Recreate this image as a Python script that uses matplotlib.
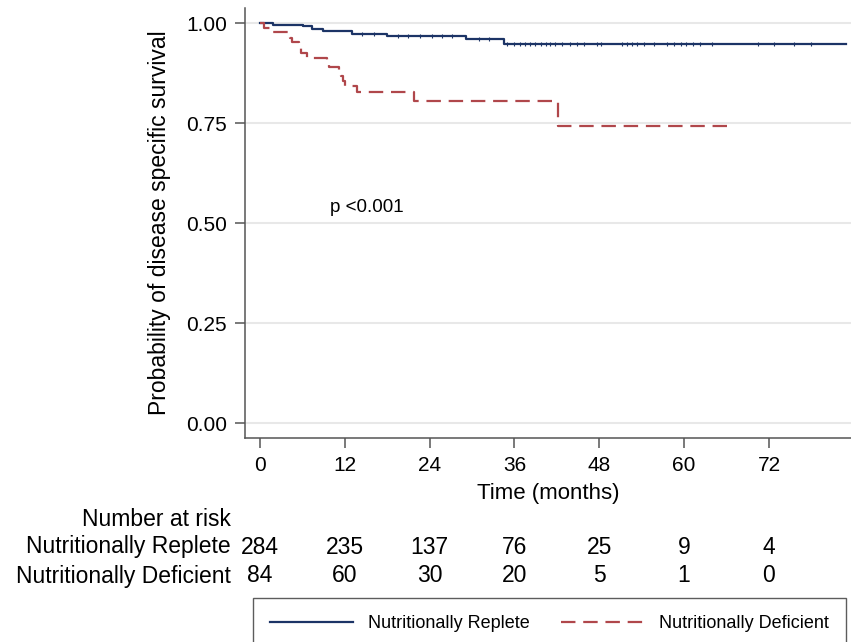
import numpy as np
import matplotlib
matplotlib.use("Agg")
from matplotlib import pyplot as plt
import matplotlib.transforms as mtransforms

plt.rcParams['font.family'] = ['Liberation Sans', 'DejaVu Sans']

# Kaplan-Meier steps (time in months, survival)
replete_t = [0, 1.9, 6.1, 7.4, 8.9, 13.0, 18.0, 29.1, 34.5, 82.9]
replete_s = [1.0, 0.9965, 0.993, 0.985, 0.981, 0.974, 0.969, 0.960, 0.949, 0.949]
replete_cens = [14.5, 16.2, 19.5, 21.0, 22.6, 24.3, 25.8, 27.2, 31.0, 32.4,
                34.9, 35.9, 36.8, 37.5, 38.2, 38.9, 39.7, 40.4, 41.1, 41.8,
                42.7, 43.9, 44.8, 45.8, 47.7, 48.2, 51.2, 51.9, 52.6, 53.4,
                54.3, 55.7, 57.6, 58.5, 59.5, 60.2, 61.2, 62.3, 64.0, 70.4,
                72.7, 75.5, 77.9]

deficient_t = [0, 0.6, 1.4, 4.2, 4.6, 5.5, 5.8, 6.6, 9.5, 9.8, 11.2, 11.5,
               11.8, 12.1, 13.7, 21.8, 42.2, 66.6]
deficient_s = [1.0, 0.988, 0.977, 0.964, 0.952, 0.940, 0.926, 0.914, 0.903,
               0.891, 0.879, 0.867, 0.855, 0.843, 0.829, 0.806, 0.743, 0.743]

groups = ['Nutritionally Replete', 'Nutritionally Deficient']
risk_times = [0, 12, 24, 36, 48, 60, 72]
risk_replete = [284, 235, 137, 76, 25, 9, 4]
risk_deficient = [84, 60, 30, 20, 5, 1, 0]

blue = '#1c3466'
red = '#b0474b'
W, H = 851, 642

fig = plt.figure(figsize=(W / 100, H / 100), dpi=100)
ax = fig.add_axes([245 / W, 1 - 438 / H, (W - 245) / W, (438 - 8) / H])

ax.step(replete_t, replete_s, where='post', color=blue, lw=1.6,
        label=groups[0])
# step value at each censor time
cens_s = [replete_s[np.searchsorted(replete_t, c, side='right') - 1]
          for c in replete_cens]
ax.plot(replete_cens, cens_s, ls='none', marker='|', ms=2.5, mew=0.8,
        color=blue)
ax.step(deficient_t, deficient_s, where='post', color=red, lw=1.6,
        dashes=(6.5, 3.5), label=groups[1])

ax.set_xlim(-2.1, 83.6)
ax.set_ylim(-0.0375, 1.038)
ax.set_xticks(risk_times)
ax.set_yticks([0, 0.25, 0.5, 0.75, 1.0])
ax.set_yticklabels(['0.00', '0.25', '0.50', '0.75', '1.00'])
ax.grid(axis='y', color='#e8e8e8', lw=1.5)
ax.set_axisbelow(True)
for s in ['top', 'right']:
    ax.spines[s].set_visible(False)
for s in ['left', 'bottom']:
    ax.spines[s].set_color('#555555')
    ax.spines[s].set_linewidth(1.1)
ax.tick_params(axis='both', direction='out', length=7, width=1.1,
               color='#555555', labelsize=15, pad=6)
ax.set_xlabel('Time (months)', fontsize=16, labelpad=6)
ax.set_ylabel('Probability of disease specific survival', fontsize=16.5,
              labelpad=11)

ax.text(9.9, 0.538, 'p <0.001', fontsize=13.5, va='center', ha='left')

# number at risk table
tr = mtransforms.blended_transform_factory(ax.transData, fig.transFigure)
fig.text(231 / W, 1 - 519 / H, 'Number at risk', fontsize=16.5,
         ha='right', va='center')
rows = [(groups[0], risk_replete, 547), (groups[1], risk_deficient, 576)]
for name, vals, ypx in rows:
    fig.text(231 / W, 1 - ypx / H, name, fontsize=16.5, ha='right',
             va='center')
    for t, v in zip(risk_times, vals):
        ax.text(t, 1 - ypx / H, str(v), transform=tr, fontsize=16.5,
                ha='center', va='center', clip_on=False)

# legend box runs off the bottom edge, as in the original
leg = fig.legend(loc='lower left',
                 bbox_to_anchor=(253 / W, -7 / H, (846 - 253) / W, 50 / H),
                 mode='expand', ncol=2, fontsize=13, frameon=True,
                 fancybox=False, handlelength=4.6, handletextpad=0.8,
                 columnspacing=1.9, borderaxespad=0, borderpad=0.95)
leg.get_frame().set_edgecolor('#333333')
leg.get_frame().set_linewidth(1.0)

fig.savefig('out.png', dpi=100)
